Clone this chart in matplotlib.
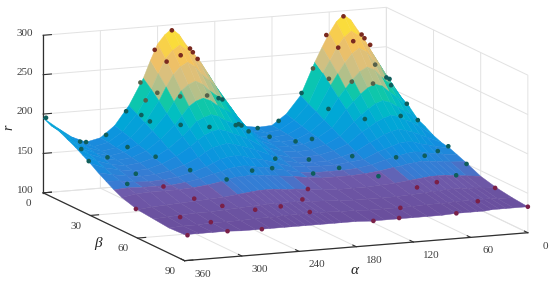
#! /usr/bin/env python3
# -*- coding: utf-8 -*-

import matplotlib
matplotlib.use('Agg')
import matplotlib.pyplot as plt
import numpy as np
from matplotlib.colors import BoundaryNorm, LinearSegmentedColormap, ListedColormap
from mpl_toolkits.mplot3d import proj3d

alpha_grid = [0, 15, 22.5, 30, 37.5, 45, 52.5, 60, 67.5, 75, 90, 105, 120, 135, 150, 165, 180,
              195, 202.5, 210, 217.5, 225, 232.5, 240, 247.5, 255, 270, 285, 300, 315, 330, 345, 360]
beta_grid = [0, 5, 10, 15, 20, 25, 30, 35, 40, 45, 50, 60, 70, 80, 90]

# r, one row per beta, one column per alpha
r_beta_0 = [209, 244, 260, 274, 288, 295, 287, 273, 256, 238, 197, 175, 162, 161, 164, 179, 215, 250, 262, 273, 287, 295, 288, 277, 257, 235, 202, 178, 164, 160, 168, 181, 195]
r_beta_5 = [201, 233, 248, 260, 273, 279, 272, 260, 244, 229, 191, 172, 161, 159, 163, 176, 208, 239, 250, 260, 272, 279, 273, 263, 245, 226, 196, 175, 163, 159, 166, 178, 190]
r_beta_10 = [194, 222, 235, 245, 257, 262, 256, 245, 232, 218, 186, 169, 160, 158, 161, 173, 201, 228, 237, 245, 256, 262, 257, 248, 233, 216, 190, 172, 161, 158, 164, 174, 188]
r_beta_15 = [187, 210, 221, 229, 239, 243, 238, 229, 218, 207, 180, 166, 158, 157, 160, 169, 192, 215, 222, 229, 238, 243, 239, 232, 219, 205, 184, 168, 160, 157, 162, 170, 183]
r_beta_20 = [177, 199, 208, 215, 223, 226, 222, 215, 206, 197, 175, 164, 157, 156, 158, 166, 185, 203, 209, 215, 222, 226, 223, 217, 206, 195, 178, 165, 158, 156, 160, 167, 178]
r_beta_25 = [172, 189, 195, 201, 207, 210, 207, 201, 194, 186, 169, 160, 155, 154, 156, 162, 177, 192, 197, 201, 207, 210, 207, 203, 194, 185, 171, 161, 156, 154, 157, 163, 172]
r_beta_30 = [166, 179, 185, 189, 194, 196, 193, 189, 183, 178, 164, 157, 153, 152, 153, 158, 170, 181, 185, 189, 193, 196, 194, 190, 184, 177, 166, 158, 153, 152, 155, 159, 166]
r_beta_35 = [162, 170, 174, 178, 181, 183, 181, 178, 173, 169, 159, 154, 150, 150, 151, 155, 164, 172, 175, 178, 181, 183, 181, 179, 174, 168, 160, 154, 151, 150, 152, 155, 159]
r_beta_40 = [160, 163, 166, 168, 171, 172, 171, 168, 165, 162, 154, 152, 150, 150, 151, 152, 158, 164, 166, 168, 171, 172, 171, 169, 165, 161, 155, 151, 149, 148, 149, 152, 153]
r_beta_45 = [156, 158, 160, 161, 163, 164, 163, 161, 159, 157, 152, 149, 148, 148, 148, 150, 154, 158, 160, 161, 163, 164, 163, 162, 159, 157, 152, 149, 147, 147, 147, 148, 147]
r_beta_50 = [152, 153, 154, 155, 156, 157, 156, 155, 153, 152, 149, 147, 146, 146, 146, 148, 151, 153, 154, 155, 156, 157, 156, 156, 154, 152, 149, 147, 146, 146, 146, 145, 142]
r_beta_60 = [143, 145, 146, 147, 148, 148, 148, 147, 146, 145, 143, 142, 141, 141, 141, 142, 144, 146, 146, 147, 148, 148, 148, 147, 146, 145, 143, 142, 141, 140, 139, 138, 136]
r_beta_70 = [138, 139, 140, 140, 141, 141, 141, 140, 140, 139, 138, 137, 137, 137, 137, 138, 139, 140, 140, 141, 141, 141, 141, 141, 140, 140, 139, 138, 137, 137, 136, 135, 134]
r_beta_80 = [135, 135, 136, 136, 136, 136, 136, 136, 135, 135, 135, 134, 134, 134, 134, 135, 135, 136, 136, 136, 136, 136, 136, 136, 135, 135, 135, 134, 134, 134, 133, 133, 132]
r_beta_90 = [133, 133, 133, 133, 133, 132, 132, 132, 132, 132, 131, 131, 131, 131, 131, 131, 132, 132, 132, 132, 132, 132, 132, 132, 132, 132, 132, 132, 132, 133, 133, 133, 133]

# measured points
dots_alpha = [357, 346, 315, 294, 273, 258, 243, 225, 247, 224, 206, 203, 198, 265, 241, 221, 176, 172, 269, 281,
              257, 235, 158, 155, 152, 135, 139, 290, 161, 45, 63, 26, 23, 17, 43, 67, 20, 77, 85, 61,
              47, 0, 0, 0, 89, 113, 102, 72, 18, 0, 0, 120, 111, 353, 321, 342, 308, 360, 337, 280,
              346, 250, 215, 194, 308, 284, 271, 360, 340, 253, 316, 357, 315, 279, 166, 139, 110, 64, 34, 12,
              1, 0, 132, 151, 99, 46, 29, 173, 75, 3, 187, 218, 36, 109, 204, 75, 135, 162, 0]
dots_beta = [0, 15, 0, 0, 0, 0, 0, 0, 10, 5, 0, 0, 0, 15, 15, 20, 0, 0, 10, 20,
             25, 30, 0, 0, 0, 0, 10, 20, 10, 0, 0, 0, 0, 0, 5, 10, 5, 0, 15, 15,
             20, 0, 2, 3, 0, 0, 25, 30, 20, 13, 20, 15, 20, 20, 30, 30, 40, 29, 45, 45,
             45, 50, 45, 45, 45, 50, 60, 59, 75, 70, 80, 90, 90, 90, 30, 35, 45, 45, 45, 40,
             40, 51, 50, 45, 55, 60, 62, 55, 65, 71, 60, 65, 80, 75, 75, 90, 90, 90, 90]
dots_r = [195, 178, 160, 167, 195, 230, 270, 293, 265, 266, 268, 263, 254, 232, 225, 229, 202, 200, 218, 202,
          200, 200, 166, 167, 165, 160, 159, 211, 168, 293, 271, 268, 263, 254, 266, 265, 234, 230, 232, 226,
          227, 211, 211, 204, 200, 167, 205, 194, 183, 190, 176, 156, 163, 174, 183, 172, 179, 168, 165, 164,
          153, 154, 157, 158, 146, 133, 132, 136, 139, 135, 135, 132, 133, 132, 153, 154, 165, 159, 158, 157,
          162, 150, 157, 147, 148, 140, 149, 139, 141, 139, 132, 131, 134, 128, 132, 132, 132, 131, 133]

alpha_ticks = [0, 60, 120, 180, 240, 300, 360]
beta_ticks = [0, 30, 60, 90]
r_ticks = [100, 150, 200, 250, 300]

TEXT_COLOR = '#404040'
GRID_COLOR = '#e2e2e2'
AXIS_COLOR = '#303030'

plt.rcParams['font.family'] = ['Liberation Serif', 'DejaVu Serif']

R = np.array([r_beta_0, r_beta_5, r_beta_10, r_beta_15, r_beta_20, r_beta_25, r_beta_30, r_beta_35,
              r_beta_40, r_beta_45, r_beta_50, r_beta_60, r_beta_70, r_beta_80, r_beta_90])
A, B = np.meshgrid(alpha_grid, beta_grid)

vmin, vmax = 130, 295
stops = [(130, '#694d9b'), (146, '#6f5bab'), (149, '#3b7ad2'), (165, '#0f90e0'), (190, '#00a8d6'),
         (207, '#02c0c0'), (218, '#12c8a6'), (226, '#a4c08e'), (245, '#d8c080'), (265, '#f4c060'),
         (280, '#f9d840'), (295, '#fce82e')]
surface_cmap = LinearSegmentedColormap.from_list(
    'surface', [((v - vmin) / (vmax - vmin), c) for v, c in stops])
dots_cmap = ListedColormap(['#7a2048', '#0e5e5c', '#55604a', '#7a2a20'])
dots_norm = BoundaryNorm([0, 147, 218, 240, 400], 4)

fig = plt.figure(figsize=(5.5, 2.86), dpi=100)
ax = fig.add_axes([11.8 / 550, -121.7 / 286, 533 / 550, 533 / 286], projection='3d', computed_zorder=False)
ax.set_proj_type('ortho')
ax.set_box_aspect((1, 1, 0.433))
ax.view_init(elev=11.4, azim=67.6)
ax.set_xlim(0, 360)
ax.set_ylim(0, 90)
ax.set_zlim(100, 300)

surf = ax.plot_surface(A, B, R, cmap=surface_cmap, vmin=vmin, vmax=vmax, rstride=1, cstride=1,
                       linewidth=0.3, antialiased=True, shade=False, zorder=1)
surf.set_edgecolor('face')
ax.scatter(dots_alpha, dots_beta, dots_r, c=dots_r, cmap=dots_cmap, norm=dots_norm,
           s=11, linewidths=0, depthshade=False, zorder=2)

ax.set_xticks(alpha_ticks)
ax.set_yticks(beta_ticks)
ax.set_zticks(r_ticks)
ax.set_xticklabels([])
ax.set_yticklabels([])
ax.set_zticklabels([])

for axis in (ax.xaxis, ax.yaxis, ax.zaxis):
    axis.set_pane_color((1, 1, 1, 0))
    axis.pane.set_edgecolor(GRID_COLOR)
    axis.line.set_color(AXIS_COLOR)
    axis.line.set_linewidth(0.9)
    axis._axinfo['grid'].update(color=GRID_COLOR, linewidth=0.7)
    axis._axinfo['tick'].update(inward_factor=0.0, outward_factor=0.3)
    for tick in axis.get_major_ticks():
        tick.tick1line.set_color(AXIS_COLOR)
ax.tick_params(width=0.7, pad=0)


def tick_label(a, b, r, text):
    # tick labels sit off the axes a bit further than mplot3d puts them
    x, y, _ = proj3d.proj_transform(a, b, r, ax.get_proj())
    ax.text2D(x, y, text, transform=ax.transData, fontsize=8, color=TEXT_COLOR,
              ha='center', va='center', zorder=3)


for a in alpha_ticks:
    tick_label(a, 101.4, 94, str(a))
for b in beta_ticks:
    tick_label(375, b, 88, str(b))
for r in r_ticks:
    tick_label(379, 0, r + 4.5, str(r))

fig.text(355 / 550, 1 - 270 / 286, '\u03b1', style='italic', fontsize=11, color='#222222', ha='center', va='center')
fig.text(98 / 550, 1 - 243 / 286, '\u03b2', style='italic', fontsize=11, color='#222222', ha='center', va='center')
fig.text(9 / 550, 1 - 127 / 286, 'r', style='italic', fontsize=10, color='#222222', ha='center', va='center', rotation=90)

fig.savefig('out.png', dpi=100)
